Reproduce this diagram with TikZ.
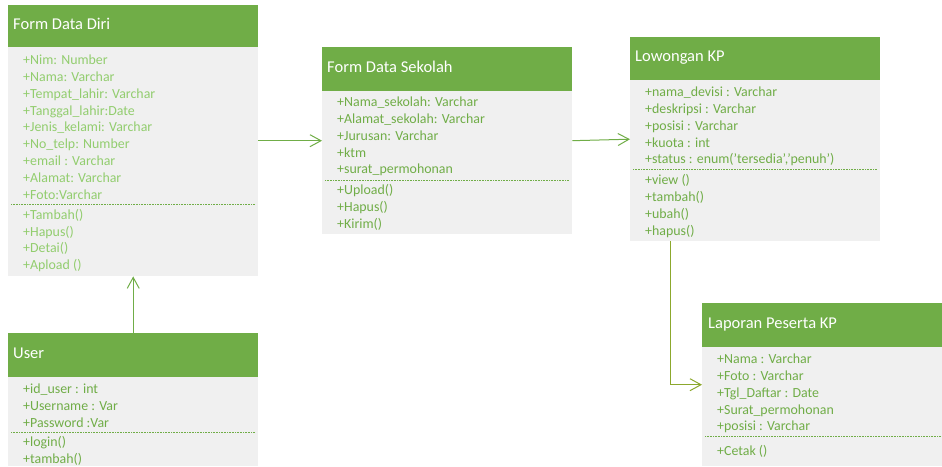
\documentclass[tikz,border=0pt]{standalone}
\usepackage{fontspec}
\setmainfont{Carlito}
\usetikzlibrary{arrows.meta}
\definecolor{hdr}{RGB}{112,173,71}
\definecolor{bodyfill}{RGB}{240,240,240}
\definecolor{txt}{RGB}{112,173,71}
\definecolor{txtlight}{RGB}{146,205,110}
\definecolor{olivec}{RGB}{140,168,45}
\tikzset{
  classbody/.style={fill=bodyfill, draw=none, anchor=north west, inner sep=0pt},
  classhead/.style={fill=hdr, draw=none, anchor=north west, inner sep=0pt},
  title/.style={anchor=west, inner sep=0pt, text=white, text height=11pt, text depth=3.5pt,
    font=\fontsize{16.5}{18}\selectfont},
  member/.style={anchor=west, inner sep=0pt, text=txt, text height=11.5pt, text depth=2pt,
    font=\fontsize{13.9}{15}\selectfont},
  memberlight/.style={member, text=txtlight},
  sep/.style={draw=txt, densely dotted, line width=0.6pt},
  conn/.style={draw=hdr, line width=1pt, -{Straight Barb[length=11pt,width=12pt,line width=1pt]}},
  connolive/.style={conn, draw=olivec},
}
\begin{document}
\begin{tikzpicture}[x=1pt,y=-1pt]
\useasboundingbox (0,0) rectangle (942,466);

% Form Data Diri
\node[classbody, minimum width=250, minimum height=271] (diri) at (8,5) {};
\node[classhead, minimum width=250, minimum height=42] (dirihead) at (8,5) {};
\node[title] (dirititle) at (13,26) {Form Data Diri};
\foreach \t [count=\i] in {+Nim: Number, +Nama: Varchar, +Tempat\_lahir: Varchar, +Tanggal\_lahir:Date, +Jenis\_kelami: Varchar, +No\_telp: Number, +email : Varchar, +Alamat: Varchar, +Foto:Varchar}
  \node[memberlight] (diri-a\i) at (23,{60+16.8*(\i-1)}) {\t};
\draw[sep] (11,204) -- (255,204);
\foreach \t [count=\i] in {+Tambah(), +Hapus(), +Detai(), +Apload ()}
  \node[memberlight] (diri-m\i) at (23,{214.5+16.8*(\i-1)}) {\t};

% User
\node[classbody, minimum width=250, minimum height=133] (user) at (8,333) {};
\node[classhead, minimum width=250, minimum height=44] (userhead) at (8,333) {};
\node[title] (usertitle) at (13,355) {User};
\foreach \t [count=\i] in {+id\_user : int, +Username : Var, +Password :Var}
  \node[member] (user-a\i) at (23,{389+16.8*(\i-1)}) {\t};
\draw[sep] (11,432) -- (255,432);
\foreach \t [count=\i] in {+login(), +tambah()}
  \node[member] (user-m\i) at (23,{442+16.8*(\i-1)}) {\t};

% Form Data Sekolah
\node[classbody, minimum width=250, minimum height=187] (sekolah) at (322,47) {};
\node[classhead, minimum width=250, minimum height=44] (sekolahhead) at (322,47) {};
\node[title] (sekolahtitle) at (327,69) {Form Data Sekolah};
\foreach \t [count=\i] in {+Nama\_sekolah: Varchar, +Alamat\_sekolah: Varchar, +Jurusan: Varchar, +ktm, +surat\_permohonan}
  \node[member] (sekolah-a\i) at (337,{102+16.8*(\i-1)}) {\t};
\draw[sep] (325,180) -- (569,180);
\foreach \t [count=\i] in {+Upload(), +Hapus(), +Kirim()}
  \node[member] (sekolah-m\i) at (337,{190+16.8*(\i-1)}) {\t};

% Lowongan KP
\node[classbody, minimum width=250, minimum height=204] (lowongan) at (630,37) {};
\node[classhead, minimum width=250, minimum height=43] (lowonganhead) at (630,37) {};
\node[title] (lowongantitle) at (635,58) {Lowongan KP};
\foreach \t [count=\i] in {+nama\_devisi : Varchar, +deskripsi : Varchar, +posisi : Varchar, +kuota : int, {+status : enum('tersedia','penuh')}}
  \node[member] (lowongan-a\i) at (645,{92+16.8*(\i-1)}) {\t};
\draw[sep] (633,169) -- (877,169);
\foreach \t [count=\i] in {+view (), +tambah(), +ubah(), +hapus()}
  \node[member] (lowongan-m\i) at (645,{180+16.8*(\i-1)}) {\t};

% Laporan Peserta KP
\node[classbody, minimum width=240, minimum height=163] (laporan) at (702,303) {};
\node[classhead, minimum width=240, minimum height=44] (laporanhead) at (702,303) {};
\node[title] (laporantitle) at (708,325) {Laporan Peserta KP};
\foreach \t [count=\i] in {+Nama : Varchar, +Foto : Varchar, +Tgl\_Daftar : Date, +Surat\_permohonan, +posisi : Varchar}
  \node[member] (laporan-a\i) at (717,{359+16.8*(\i-1)}) {\t};
\draw[sep] (705,436) -- (942,436);
\node[member] (laporan-m1) at (717,451) {+Cetak ()};

% Connectors
\draw[conn] (user.north) -- (diri.south);
\draw[conn] (diri.east |- sekolah.west) -- (sekolah.west);
\draw[conn] (sekolah.east) -- (lowongan.west);
\draw[connolive] ([xshift=40pt]lowongan.south west) |- (laporan.west);
\end{tikzpicture}
\end{document}
